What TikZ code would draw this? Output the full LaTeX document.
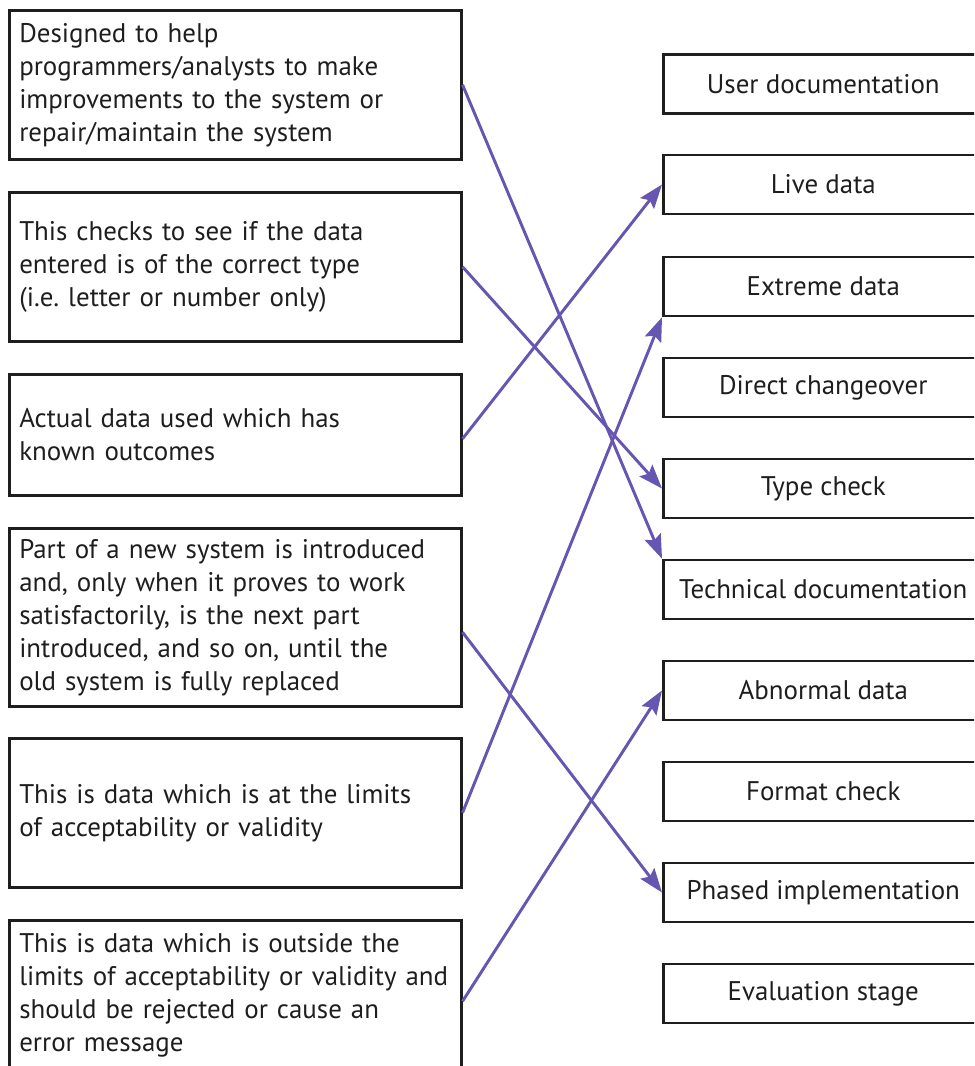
\documentclass[tikz,border=0pt]{standalone}
\usepackage{fontspec}
\setmainfont{PT Sans}
\usetikzlibrary{arrows.meta}
\definecolor{linkcol}{RGB}{102,86,178}
\definecolor{inkcol}{RGB}{30,30,30}
\frenchspacing
\begin{document}
\begin{tikzpicture}[x=0.75pt,y=-0.75pt,
  every node/.style={font=\fontsize{20.2}{24.75}\selectfont, text=inkcol},
  lbox/.style={draw=inkcol, line width=1.9pt, minimum width=339pt, text width=324pt,
    inner xsep=7.5pt, inner ysep=0pt, align=left, anchor=north west},
  rbox/.style={draw=inkcol, line width=1.9pt, minimum width=240pt, minimum height=44.25pt,
    inner sep=0pt, anchor=west},
  link/.style={draw=linkcol, line width=2.2pt,
    -{Stealth[length=18pt, width=13pt, inset=3pt]}}]
\clip (0,0) rectangle (974,1066);
\useasboundingbox (0,0) rectangle (974,1066);

% descriptions on the left
\node[lbox, minimum height=111.75pt] (d1) at (8,9)
  {Designed to help\\programmers/analysts to make\\improvements to the system or\\repair/maintain the system};
\node[lbox, minimum height=111.75pt] (d2) at (8,191)
  {This checks to see if the data\\entered is of the correct type\\(i.e. letter or number only)};
\node[lbox, minimum height=90.75pt] (d3) at (8,373)
  {Actual data used which has\\known outcomes};
\node[lbox, minimum height=133.5pt] (d4) at (8,527)
  {Part of a new system is introduced\\and, only when it proves to work\\satisfactorily, is the next part\\introduced, and so on, until the\\old system is fully replaced};
\node[lbox, minimum height=111.75pt] (d5) at (8,737)
  {This is data which is at the limits\\of acceptability or validity};
\node[lbox, minimum height=112.5pt] (d6) at (8,919)
  {This is data which is outside the\\limits of acceptability or validity and\\should be rejected or cause an\\error message};

% terms on the right
\node[rbox] (t1)  at (662,84.0)  {User documentation};
\node[rbox] (t2)  at (662,184.5) {Live data};
\node[rbox] (t3)  at (662,286.5) {Extreme data};
\node[rbox] (t4)  at (662,387.5) {Direct changeover};
\node[rbox] (t5)  at (662,488.5) {Type check};
\node[rbox] (t6)  at (662,589.5) {Technical documentation};
\node[rbox] (t7)  at (662,690.5) {Abnormal data};
\node[rbox] (t8)  at (662,791.5) {Format check};
\node[rbox] (t9)  at (662,892.5) {Phased implementation};
\node[rbox] (t10) at (662,993.5) {Evaluation stage};

% matching lines
\draw[link] (d1.east) -- (t6.north west);
\draw[link] (d2.east) -- (t5.west);
\draw[link] ([yshift=-3pt]d3.east) -- (t2.west);
\draw[link] ([yshift=-11.25pt]d4.east) -- (t9.west);
\draw[link] (d5.east) -- (t3.south west);
\draw[link] ([yshift=-4.5pt]d6.east) -- (t7.west);
\end{tikzpicture}
\end{document}
